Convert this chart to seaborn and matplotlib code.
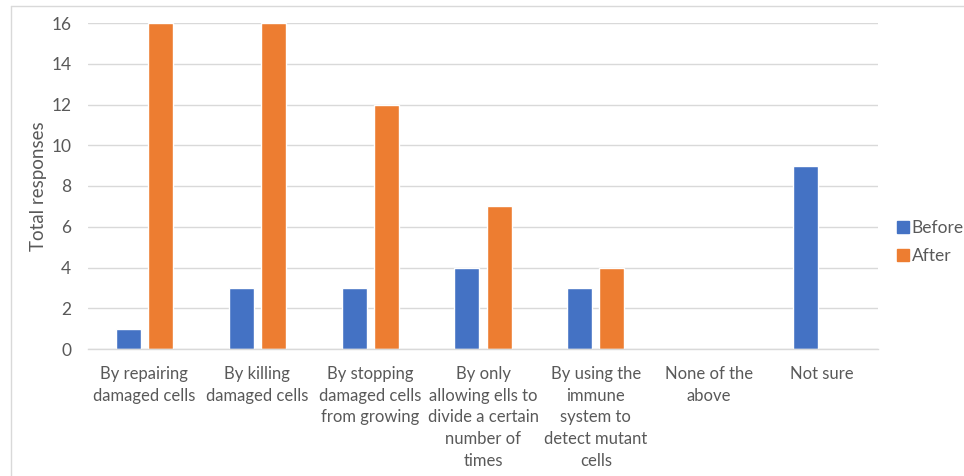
import matplotlib
matplotlib.use("Agg")
import matplotlib.pyplot as plt
from matplotlib.lines import Line2D
import seaborn as sns
import pandas as pd

categories = [
    "By repairing\ndamaged cells",
    "By killing\ndamaged cells",
    "By stopping\ndamaged cells\nfrom growing",
    "By only\nallowing ells to\ndivide a certain\nnumber of\ntimes",
    "By using the\nimmune\nsystem to\ndetect mutant\ncells",
    "None of the\nabove",
    "Not sure",
]
before = [1, 3, 3, 4, 3, 0, 9]
after = [16, 16, 12, 7, 4, 0, 0]
series = ["Before", "After"]
colors = ["#4472C4", "#ED7D31"]
yticks = [0, 2, 4, 6, 8, 10, 12, 14, 16]

df = pd.DataFrame({
    "category": categories * 2,
    "series": ["Before"] * len(categories) + ["After"] * len(categories),
    "value": before + after,
})

sns.set_theme(style="white")
plt.rcParams["font.family"] = ["Lato", "DejaVu Sans"]
text_color = "#595959"
grid_color = "#D9D9D9"

fig = plt.figure(figsize=(9.64, 4.76), dpi=100)
ax = fig.add_axes([88 / 964, 1 - 349 / 476, 790 / 964, 326 / 476])

sns.barplot(
    data=df, x="category", y="value", hue="series",
    hue_order=series, palette=colors, order=categories,
    width=0.57, gap=0.22, ax=ax, legend=False, saturation=1,
)

ax.set_ylim(0, 16)
ax.set_xlim(-0.5, len(categories) - 0.5)
ax.set_yticks(yticks)
ax.set_yticklabels([str(t) for t in yticks])
ax.yaxis.grid(True, color=grid_color, linewidth=1)
ax.set_axisbelow(True)
for side in ["top", "right", "left"]:
    ax.spines[side].set_visible(False)
ax.spines["bottom"].set_color(grid_color)
ax.spines["bottom"].set_linewidth(1)
ax.tick_params(axis="y", length=0, colors=text_color, labelsize=12.5, pad=12)
ax.tick_params(axis="x", length=0, colors=text_color, labelsize=12, pad=12)
for lab in ax.get_xticklabels():
    lab.set_linespacing(1.45)
    lab.set_verticalalignment("top")
ax.set_xlabel("")
ax.set_ylabel("Total responses", color=text_color, fontsize=13.5, labelpad=3)

handles = [
    Line2D([], [], marker="s", linestyle="none", markersize=8,
           markerfacecolor=c, markeredgecolor=c)
    for c in colors
]
fig.legend(
    handles, series, loc="center left",
    bbox_to_anchor=(882 / 964, 1 - 242 / 476), frameon=False,
    handletextpad=0.0, labelspacing=0.7, fontsize=12.5,
    labelcolor=text_color, handlelength=1.0, borderpad=0.2,
)

# outer chart frame
fig.add_artist(Line2D([11 / 964, 11 / 964], [0, 1 - 6 / 476],
                      transform=fig.transFigure, color="#D9D9D9", linewidth=1))
fig.add_artist(Line2D([11 / 964, 1], [1 - 6 / 476, 1 - 6 / 476],
                      transform=fig.transFigure, color="#D9D9D9", linewidth=1))

fig.savefig("out.png", dpi=100, facecolor="white")
